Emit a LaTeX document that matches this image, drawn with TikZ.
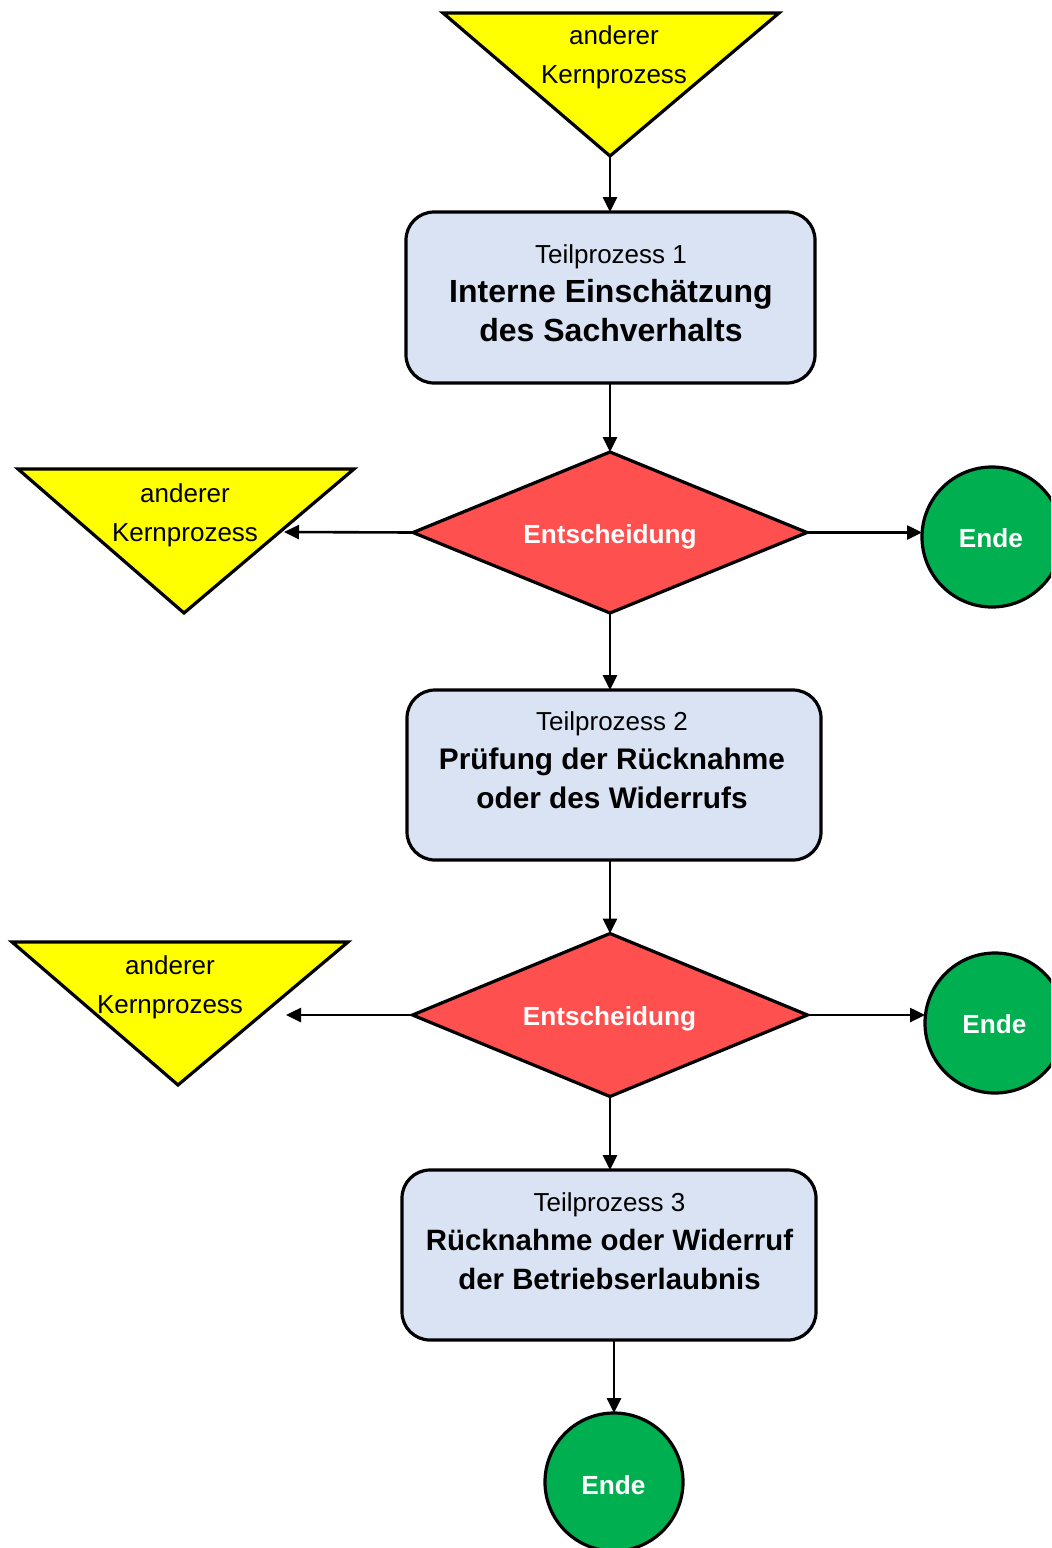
\documentclass[tikz,border=0pt]{standalone}
\usepackage{fontspec}
\setmainfont{Liberation Sans}
\usetikzlibrary{shapes.geometric,arrows.meta}
\definecolor{kyellow}{HTML}{FFFF00}
\definecolor{kred}{HTML}{FF5050}
\definecolor{kgreen}{HTML}{00B050}
\definecolor{kblue}{HTML}{DAE3F3}
\begin{document}
\begin{tikzpicture}[x=0.5pt,y=-0.5pt,
  shapeline/.style={draw=black,line width=1.6pt,outer sep=0pt,inner sep=0pt},
  procbox/.style={shapeline,rectangle,rounded corners=14pt,fill=kblue},
  decision/.style={shapeline,diamond,fill=kred},
  endcircle/.style={shapeline,circle,fill=kgreen,minimum size=70pt},
  kerntri/.style={draw=black,line width=1.6pt,fill=kyellow,line join=miter},
  flow/.style={line width=1.3pt,-{Triangle[length=7.5pt,width=7pt]}},
  regtxt/.style={inner sep=0pt,align=center,font=\fontsize{13}{19.5}\selectfont},
  whitetxt/.style={inner sep=0pt,text=white,font=\fontsize{13.1}{15}\selectfont\bfseries},
]
\useasboundingbox (0,0) rectangle (1051,1548);
\clip (0,0) rectangle (1051,1548);

% triangles (other core processes)
\coordinate (t1l) at (443,13);
\coordinate (t1r) at (779,13);
\coordinate (t1a) at (610,156);
\coordinate (t2l) at (18,469);
\coordinate (t2r) at (354,469);
\coordinate (t2a) at (184,613);
\coordinate (t3l) at (12,942);
\coordinate (t3r) at (348,942);
\coordinate (t3a) at (178,1085);
\draw[kerntri] (t1l) -- (t1r) -- (t1a) -- cycle;
\draw[kerntri] (t2l) -- (t2r) -- (t2a) -- cycle;
\draw[kerntri] (t3l) -- (t3r) -- (t3a) -- cycle;
\node[regtxt] (t1t) at (614,57) {anderer\\Kernprozess};
\node[regtxt] (t2t) at (185,515.5) {anderer\\Kernprozess};
\node[regtxt] (t3t) at (170,987) {anderer\\Kernprozess};
\coordinate (t2in) at (284,532);
\coordinate (t3in) at (286,1016);

% process boxes
\node[procbox,minimum width=204.5pt,minimum height=85.5pt] (b1) at (610.5,297.5) {};
\node[procbox,minimum width=207pt,minimum height=85pt] (b2) at (614,775) {};
\node[procbox,minimum width=207pt,minimum height=85pt] (b3) at (609,1255) {};
\node[regtxt] (b1t) at (611,292.8) {Teilprozess 1\\\fontsize{16}{19.5}\selectfont\bfseries Interne Einschätzung\\\fontsize{16}{19.5}\selectfont\bfseries des Sachverhalts};
\node[regtxt] (b2t) at (612,760.4) {Teilprozess 2\\\fontsize{14.9}{19.5}\selectfont\bfseries Prüfung der Rücknahme\\\fontsize{14.9}{19.5}\selectfont\bfseries oder des Widerrufs};
\node[regtxt] (b3t) at (609.5,1241.4) {Teilprozess 3\\\fontsize{14.7}{19.5}\selectfont\bfseries Rücknahme oder Widerruf\\\fontsize{14.7}{19.5}\selectfont\bfseries der Betriebserlaubnis};

% decisions
\node[decision,minimum width=197pt,minimum height=80.5pt] (d1) at (610,532.5) {};
\node[decision,minimum width=197.5pt,minimum height=81.5pt] (d2) at (610,1015) {};
\node[whitetxt] (d1t) at (610,537) {Entscheidung};
\node[whitetxt] (d2t) at (609.5,1019) {Entscheidung};

% end circles
\node[endcircle] (c1) at (992,537) {};
\node[endcircle] (c2) at (995,1023) {};
\node[endcircle,minimum size=69pt] (c3) at (614,1482) {};
\node[whitetxt] (c1t) at (991,538.5) {Ende};
\node[whitetxt] (c2t) at (994.5,1024.5) {Ende};
\node[whitetxt] (c3t) at (613.5,1485.5) {Ende};

% connectors
\draw[flow] (t1a) -- (t1a |- b1.north);
\draw[flow] (d1.north |- b1.south) -- (d1.north);
\draw[flow] (d1.west) -- (t2in);
\draw[flow] (d1.east) -- (d1.east -| c1.west);
\draw[flow] (d1.south) -- (d1.south |- b2.north);
\draw[flow] (d2.north |- b2.south) -- (d2.north);
\draw[flow] (d2.west) -- (d2.west -| t3in);
\draw[flow] (d2.east) -- (d2.east -| c2.west);
\draw[flow] (d2.south) -- (d2.south |- b3.north);
\draw[flow] (c3.north |- b3.south) -- (c3.north);
\end{tikzpicture}
\end{document}
